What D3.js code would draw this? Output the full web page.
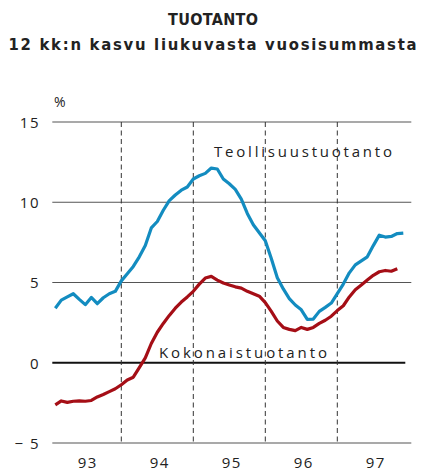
<!DOCTYPE html>
<html>
<head>
<meta charset="utf-8">
<script src="https://cdn.jsdelivr.net/npm/d3@7"></script>
<style>
  html, body { margin: 0; padding: 0; background: #fff; }
  svg { display: block; }
</style>
</head>
<body>
<svg id="chart" width="422" height="471"></svg>
<script>
// ---- data (monthly, Jan 1993 onwards; plotted at month end) ----
const startYear = 1993;
const yearLabels = ["93", "94", "95", "96", "97"];
const yTicks = [-5, 0, 5, 10, 15];
const yearDividers = [1994, 1995, 1996, 1997];

const teollisuus = [
  3.4, 3.9, 4.1, 4.3, 3.95, 3.62, 4.07, 3.68, 4.05, 4.3, 4.45, 5.1,
  5.55, 6.0, 6.6, 7.3, 8.4, 8.8, 9.5, 10.1, 10.45, 10.75, 10.95, 11.45,
  11.65, 11.8, 12.13, 12.07, 11.45, 11.15, 10.8, 10.2, 9.3, 8.6, 8.1, 7.6,
  6.5, 5.3, 4.6, 4.0, 3.6, 3.3, 2.7, 2.72, 3.2, 3.45, 3.72, 4.3,
  4.9, 5.6, 6.1, 6.35, 6.6, 7.3, 7.95, 7.83, 7.87, 8.05, 8.08
];
const kokonais = [
  -2.62, -2.38, -2.47, -2.4, -2.37, -2.4, -2.35, -2.13, -1.98, -1.8, -1.62, -1.37,
  -1.07, -0.9, -0.3, 0.3, 1.2, 1.9, 2.45, 2.95, 3.4, 3.78, 4.1, 4.45,
  4.9, 5.28, 5.38, 5.15, 4.97, 4.85, 4.73, 4.65, 4.45, 4.3, 4.15, 3.75,
  3.2, 2.6, 2.2, 2.08, 2.0, 2.2, 2.08, 2.2, 2.45, 2.65, 2.9, 3.25,
  3.55, 4.1, 4.55, 4.85, 5.15, 5.45, 5.67, 5.75, 5.7, 5.86
];
const seriesNames = ["Teollisuustuotanto", "Kokonaistuotanto"];
const titleText = "TUOTANTO";
const subtitleText = "12 kk:n kasvu liukuvasta vuosisummasta";

// ---- layout ----
const svg = d3.select("#chart");
const x = d3.scaleLinear().domain([1993, 1998]).range([49.3, 409.3]);
const y = d3.scaleLinear().domain([-5, 15]).range([443, 122]);
const gx0 = x(1993) + 3, gx1 = x(1998) + 2;
const blue = "#138cc0", red = "#a50e16";
const labelFont = "'Open Sans', 'Noto Sans', sans-serif";
const titleFont = "'Liberation Sans Narrow', 'DejaVu Sans Condensed', sans-serif";
const tAt = i => startYear + (i + 1) / 12;

// title
svg.append("text").attr("x", 213).attr("y", 25).attr("text-anchor", "middle")
  .attr("font-family", titleFont).attr("font-stretch", "condensed")
  .attr("font-weight", "bold").attr("font-size", 16).attr("fill", "#222")
  .attr("textLength", 90).attr("lengthAdjust", "spacing").text(titleText);
svg.append("text").attr("x", 212.5).attr("y", 50).attr("text-anchor", "middle")
  .attr("font-family", titleFont).attr("font-stretch", "condensed")
  .attr("font-weight", "bold").attr("font-size", 16.5).attr("fill", "#222")
  .attr("textLength", 408).attr("lengthAdjust", "spacing").text(subtitleText);

// y gridlines and labels
const yAxis = d3.axisLeft(y).tickValues(yTicks).tickSize(0).tickPadding(0)
  .tickFormat(d => d < 0 ? "\u2212 " + Math.abs(d) : String(d));
const ya = svg.append("g").attr("transform", `translate(${40},0)`).call(yAxis);
ya.select(".domain").remove();
ya.selectAll("text").attr("font-family", labelFont).attr("font-size", 15)
  .attr("fill", "#222").attr("letter-spacing", 1.5).attr("dy", "0.36em");

svg.append("g").selectAll("line").data(yTicks).join("line")
  .attr("x1", gx0).attr("x2", d => d === 0 ? gx1 - 6 : gx1)
  .attr("y1", d => y(d)).attr("y2", d => y(d))
  .attr("stroke", d => d === 0 ? "#111" : "#555")
  .attr("stroke-width", d => d === 0 ? 2 : 1.2);

svg.append("text").attr("x", 54).attr("y", 107).attr("font-family", labelFont)
  .attr("font-size", 14).attr("fill", "#222").text("%");

// year dividers
svg.append("g").selectAll("line").data(yearDividers).join("line")
  .attr("x1", d => x(d)).attr("x2", d => x(d))
  .attr("y1", y(15)).attr("y2", y(-5))
  .attr("stroke", "#333").attr("stroke-width", 1).attr("stroke-dasharray", "5,3.5");

// x labels
const xAxis = d3.axisBottom(x).tickValues(yearLabels.map((_, i) => startYear + i + 0.5))
  .tickSize(0).tickPadding(0).tickFormat((d, i) => yearLabels[i]);
const xa = svg.append("g").attr("transform", `translate(2,${468})`).call(xAxis);
xa.select(".domain").remove();
xa.selectAll("text").attr("font-family", labelFont).attr("font-size", 15)
  .attr("fill", "#222").attr("letter-spacing", 1.5).attr("dy", 0);

// lines
const line = d3.line().x((d, i) => x(tAt(i))).y(d => y(d)).curve(d3.curveLinear);
svg.append("path").datum(kokonais).attr("d", line).attr("fill", "none")
  .attr("stroke", red).attr("stroke-width", 3.2).attr("stroke-linejoin", "round");
svg.append("path").datum(teollisuus).attr("d", line).attr("fill", "none")
  .attr("stroke", blue).attr("stroke-width", 3.2).attr("stroke-linejoin", "round");

// series labels
svg.append("text").attr("x", 214).attr("y", 157).attr("font-family", labelFont)
  .attr("font-size", 15).attr("fill", "#222")
  .attr("textLength", 178).attr("lengthAdjust", "spacing").text(seriesNames[0]);
svg.append("text").attr("x", 159).attr("y", 358).attr("font-family", labelFont)
  .attr("font-size", 15).attr("fill", "#222")
  .attr("textLength", 168).attr("lengthAdjust", "spacing").text(seriesNames[1]);
</script>
</body>
</html>
